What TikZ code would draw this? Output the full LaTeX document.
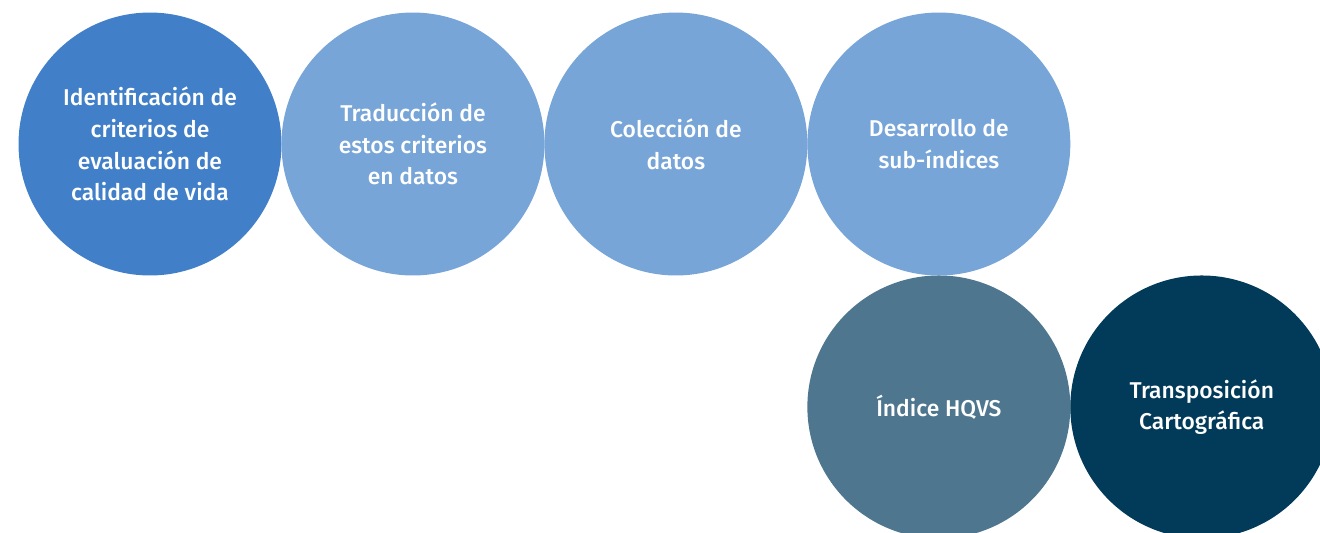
\documentclass[tikz,border=0pt]{standalone}
\usepackage{fontspec}
\setmainfont{Fira Sans Medium}
\usepackage{tikz}
\usetikzlibrary{positioning}

\definecolor{pasoazul}{HTML}{4180C8}
\definecolor{pasoclaro}{HTML}{78A5D8}
\definecolor{pasogris}{HTML}{4E778F}
\definecolor{pasooscuro}{HTML}{023A5A}

\begin{document}
\begin{tikzpicture}[x=0.02cm, y=-0.02cm]
    \tikzset{
        paso/.style={
                circle, minimum size=5.26cm, inner sep=0pt, outer sep=0pt,
                text=white, align=center,
                font=\fontsize{13}{18}\selectfont
            }
    }
    \useasboundingbox (0,0) rectangle (1320,532);
    \clip (0,0) rectangle (1320,532);

    % fila superior
    \node[paso, fill=pasoazul] (ident) at (150,144) {Identificación de\\criterios de\\evaluación de\\calidad de vida};
    \node[paso, fill=pasoclaro, right=0pt of ident] (traduc) {Traducción de\\estos criterios\\en datos};
    \node[paso, fill=pasoclaro, right=0pt of traduc] (colec) {Colección de\\datos};
    \node[paso, fill=pasoclaro, right=0pt of colec] (desarr) {Desarrollo de\\sub-índices};

    % fila inferior
    \node[paso, fill=pasogris, below=0pt of desarr] (indice) {Índice HQVS};
    \node[paso, fill=pasooscuro, right=0pt of indice] (transp) {Transposición\\Cartográfica};
\end{tikzpicture}
\end{document}
